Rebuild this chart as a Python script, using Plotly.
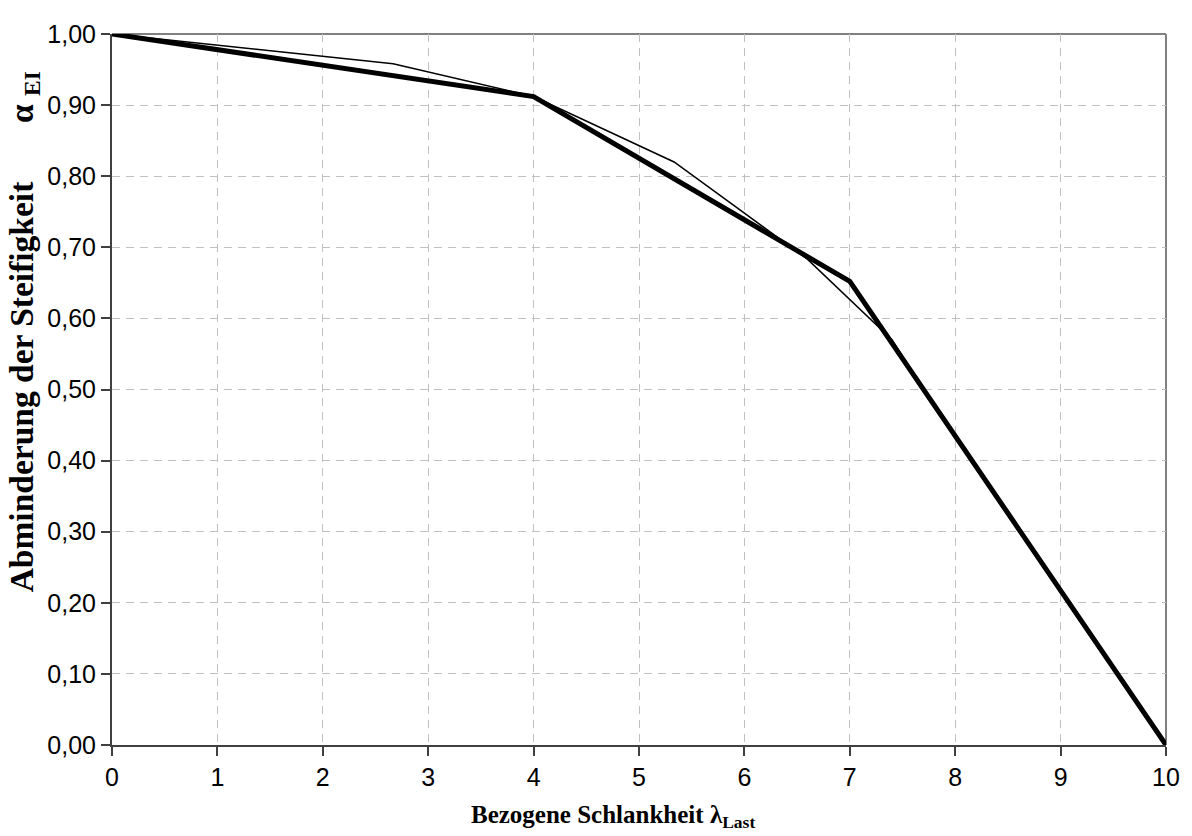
import plotly.graph_objects as go

# Thick line (approximation)
thick_x = [0, 4, 7, 10]
thick_y = [1.00, 0.912, 0.652, 0.00]

# Thin line (reference curve)
thin_x = [0, 2.667, 4, 5.333, 6, 6.6, 7.4, 8, 9, 9.5, 10]
thin_y = [1.00, 0.958, 0.912, 0.820, 0.748, 0.683, 0.570, 0.432, 0.215, 0.106, 0.00]

x_ticks = list(range(0, 11))
y_ticks = [round(i * 0.1, 1) for i in range(0, 11)]

fig = go.Figure()
fig.add_trace(go.Scatter(x=thick_x, y=thick_y, mode="lines",
                         line=dict(color="black", width=5), showlegend=False))
fig.add_trace(go.Scatter(x=thin_x, y=thin_y, mode="lines",
                         line=dict(color="black", width=1.5), showlegend=False))

axis_font = dict(family="Liberation Sans, Arial, sans-serif", size=25, color="black")

fig.update_layout(
    width=1184, height=828,
    margin=dict(l=104, r=24, t=19, b=91),
    paper_bgcolor="white", plot_bgcolor="white",
    separators=",.",
    xaxis=dict(range=[0, 10], tickvals=x_ticks, showgrid=True,
               gridcolor="#c0c0c0", griddash="8px,6px", gridwidth=1,
               showline=True, linecolor="#404040", linewidth=2,
               ticks="outside", ticklen=9, tickcolor="#404040", tickwidth=1.5,
               tickfont=axis_font, zeroline=False),
    yaxis=dict(range=[0, 1], tickvals=y_ticks, tickformat=".2f", showgrid=True,
               gridcolor="#c0c0c0", griddash="8px,6px", gridwidth=1,
               showline=True, linecolor="#404040", linewidth=2,
               ticks="outside", ticklen=9, tickcolor="#404040", tickwidth=1.5,
               tickfont=axis_font, zeroline=False),
    shapes=[
        dict(type="line", xref="paper", yref="paper", x0=0, x1=1, y0=1, y1=1,
             line=dict(color="#808080", width=2), layer="below"),
        dict(type="line", xref="paper", yref="paper", x0=1, x1=1, y0=0, y1=1,
             line=dict(color="#808080", width=2), layer="below"),
    ],
    annotations=[
        dict(text="<b>Bezogene Schlankheit λ<sub>Last</sub></b>",
             xref="paper", yref="paper", x=0.475, y=-0.100, xanchor="center", yanchor="middle",
             showarrow=False,
             font=dict(family="Liberation Serif, Times New Roman, serif", size=25, color="black")),
        dict(text="<b>Abminderung der Steifigkeit" + "&nbsp;" * 7 + "α <sub>EI</sub></b>",
             xref="paper", yref="paper", x=-0.084, y=0.581, xanchor="center", yanchor="middle",
             textangle=-90, showarrow=False,
             font=dict(family="Liberation Serif, Times New Roman, serif", size=33.5, color="black")),
    ],
)

fig.write_html("out.html")
